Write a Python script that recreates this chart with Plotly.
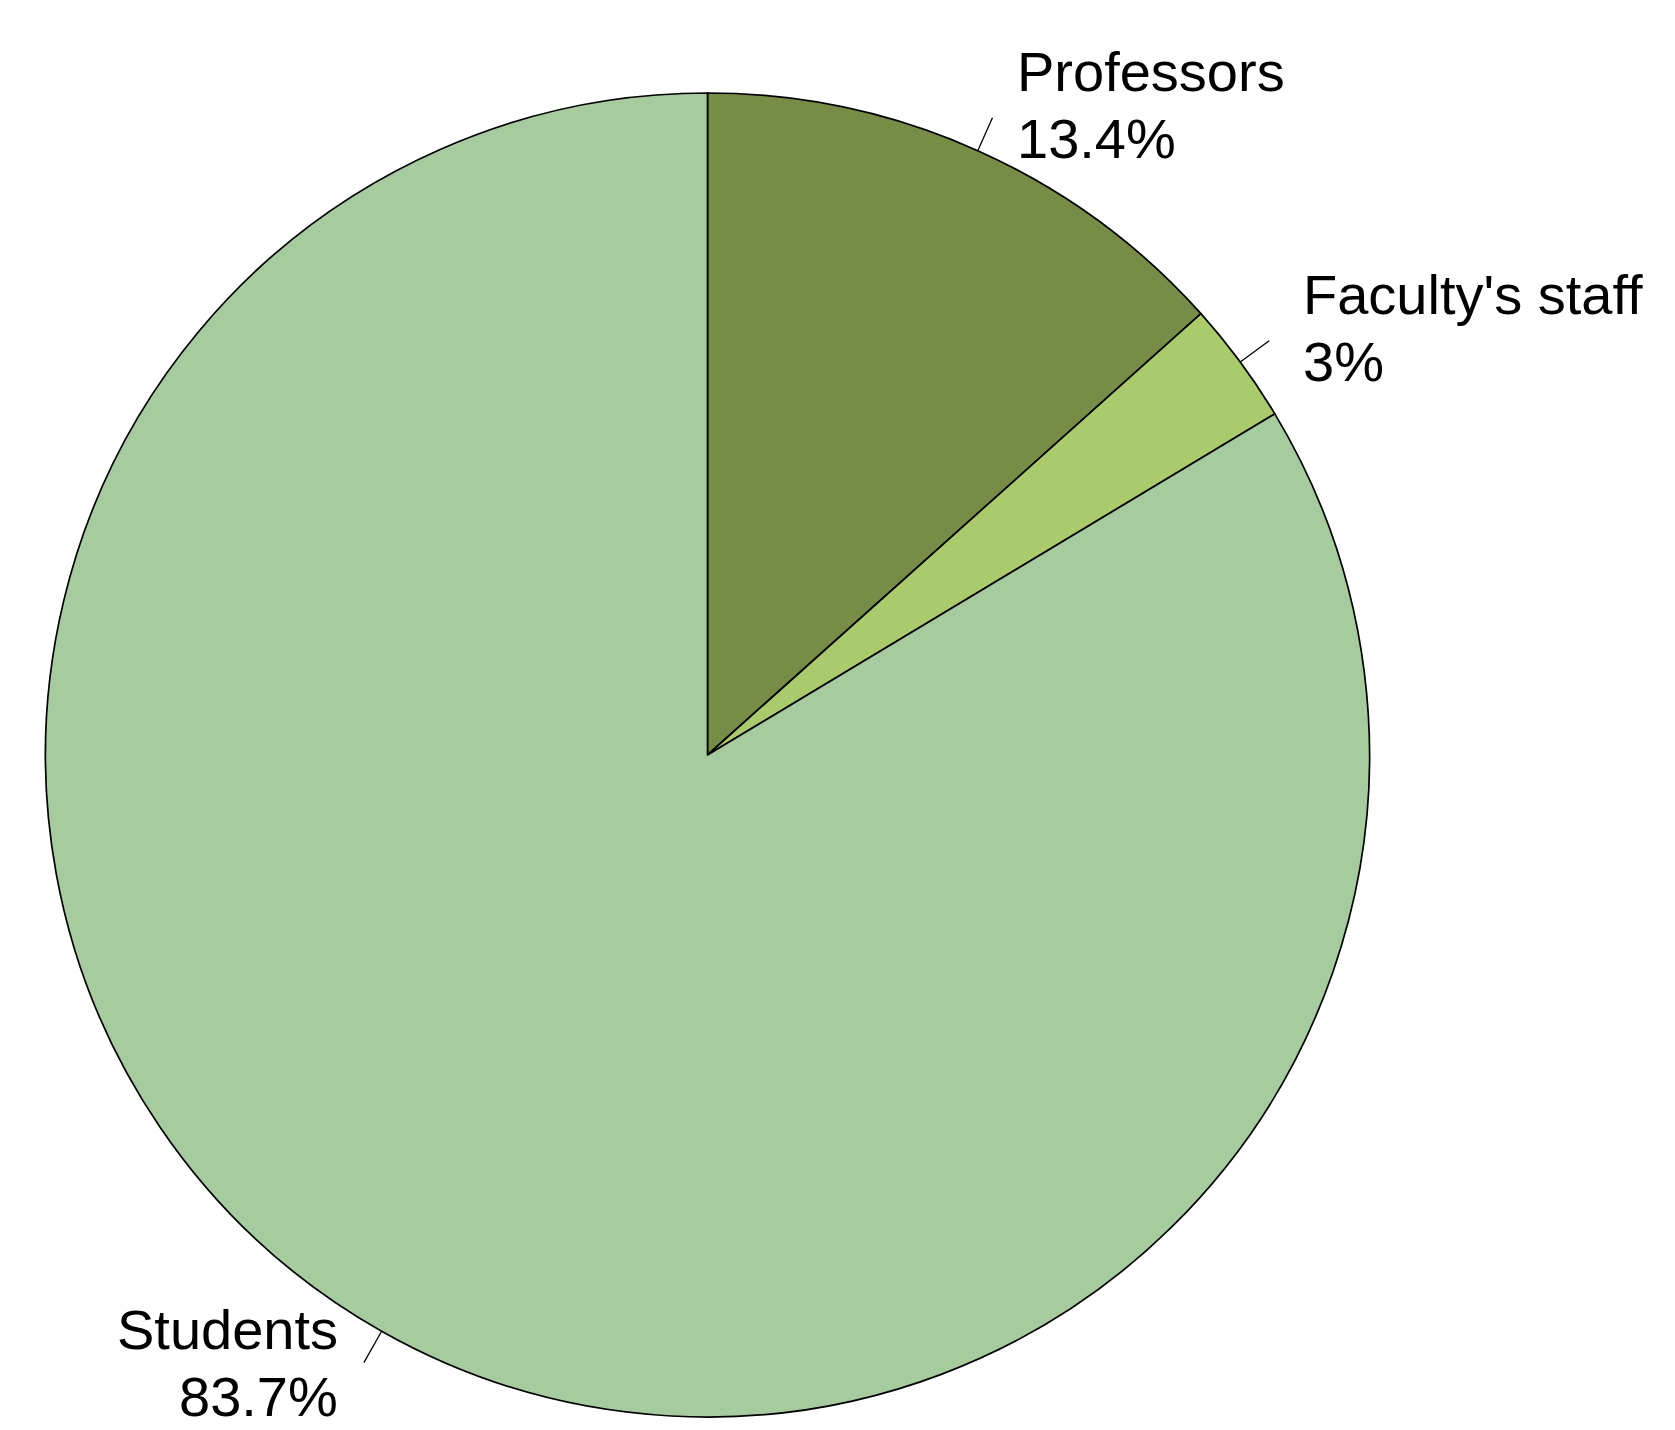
import math
import plotly.graph_objects as go

categories = ["Professors", "Faculty's staff", "Students"]
values = [13.4, 3, 83.7]
pct_labels = ["13.4%", "3%", "83.7%"]
colors = ["#778C47", "#A9CB6C", "#A5CB9E"]

W, H = 1675, 1430
CX, CY, R = 707.5, 755.0, 662.0   # pixel geometry of the pie
FONT = "Liberation Sans, Arial, sans-serif"
FS = 56
LINE_H = 67
LEAD = 36

fig = go.Figure(go.Pie(
    labels=categories,
    values=values,
    sort=False,
    direction="clockwise",
    rotation=0,
    textinfo="none",
    hoverinfo="label+percent",
    marker=dict(colors=colors, line=dict(color="#000000", width=1.7)),
    domain=dict(x=[(CX - R) / W, (CX + R) / W],
                y=[(H - CY - R) / H, (H - CY + R) / H]),
    showlegend=False,
))

def px(x):
    return x / W

def py(y):
    return 1 - y / H

total = sum(values)
cum = 0.0
annotations = []
shapes = []
for name, v, pct in zip(categories, values, pct_labels):
    mid = (cum + v / 2) / total
    cum += v
    th = 2 * math.pi * mid
    sx, sy = math.sin(th), -math.cos(th)
    x0, y0 = CX + R * sx, CY + R * sy
    x1, y1 = CX + (R + LEAD) * sx, CY + (R + LEAD) * sy
    shapes.append(dict(type="line", xref="paper", yref="paper",
                       x0=px(x0), y0=py(y0), x1=px(x1), y1=py(y1),
                       line=dict(color="#000000", width=1.3)))
    gap = 12 + 25 * abs(sx)
    if sx >= 0:
        xa, tx = "left", x1 + gap
    else:
        xa, tx = "right", x1 - gap
    if sy < 0:
        y_pct = y1 + 21
        y_name = y_pct - LINE_H
    else:
        y_name = y1 - 16
        y_pct = y_name + LINE_H
        over = y_pct - (H - 34)
        if over > 0:
            y_name -= over
            y_pct -= over
    for txt, yy in ((name, y_name), (pct, y_pct)):
        annotations.append(dict(text=txt, xref="paper", yref="paper",
                                x=px(tx), y=py(yy), xanchor=xa, yanchor="middle",
                                showarrow=False,
                                font=dict(family=FONT, size=FS, color="#000000")))

fig.update_layout(
    width=W, height=H,
    margin=dict(l=0, r=0, t=0, b=0),
    paper_bgcolor="white",
    plot_bgcolor="white",
    annotations=annotations,
    shapes=shapes,
)

fig.write_html("out.html")
